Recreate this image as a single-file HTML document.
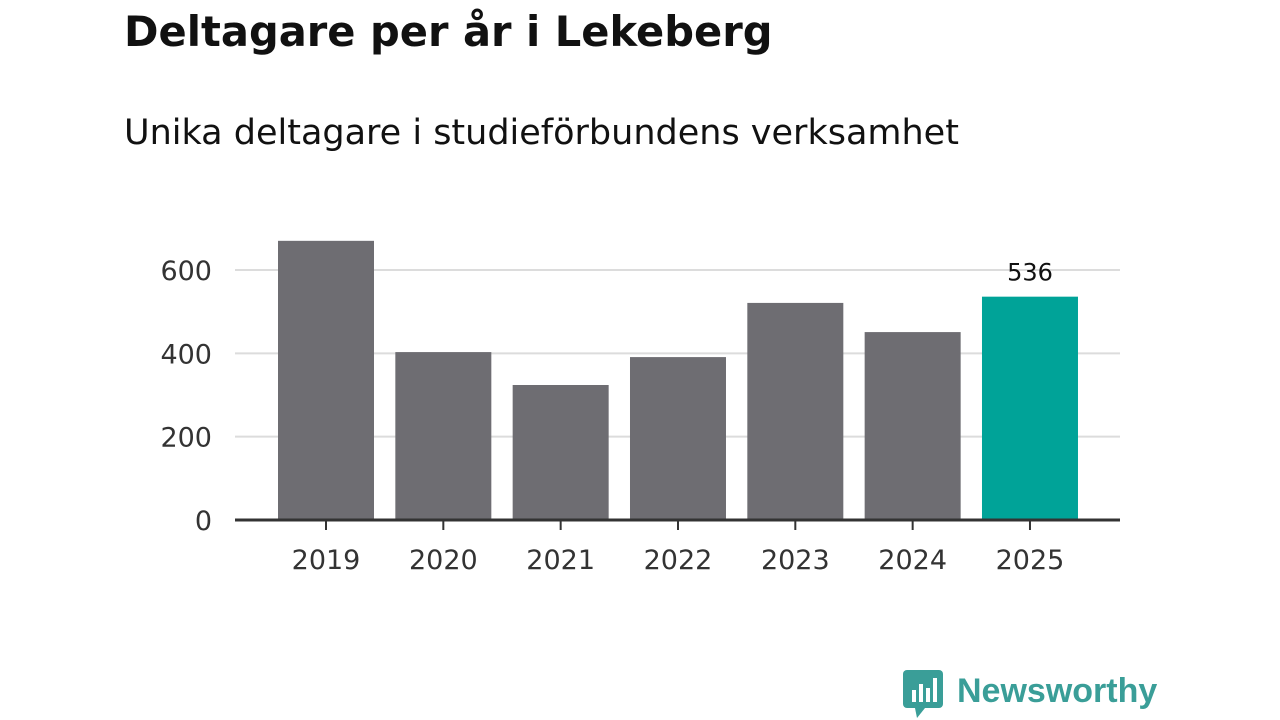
<!DOCTYPE html>
<html><head><meta charset="utf-8"><style>
body{margin:0;background:#fff;width:1280px;height:720px;overflow:hidden;font-family:"DejaVu Sans",sans-serif;}
#title{position:absolute;left:124px;top:7px;font-size:41.6px;font-weight:bold;color:#111;margin:0;white-space:nowrap}
#sub{position:absolute;left:124px;top:113px;font-size:35px;color:#111;white-space:nowrap}
svg{position:absolute;left:0;top:0}
</style></head><body>
<h1 id="title">Deltagare per år i Lekeberg</h1>
<div id="sub">Unika deltagare i studieförbundens verksamhet</div>
<svg id="chart" width="1280" height="720"></svg>
<script>
const categories=["2019","2020","2021","2022","2023","2024","2025"];
const values=[670,403,324,391,521,451,536];
const yTicks=[0,200,400,600];
const highlightLabel="536";
const svg=document.getElementById('chart');
const NS="http://www.w3.org/2000/svg";
const x0=235,x1=1120,y0=520,pxPer=250/600;
const y=v=>y0-v*pxPer;
const step=117.33;
const xc=i=>326+step*i;
const FF='DejaVu Sans, sans-serif';
function mk(t,a){const e=document.createElementNS(NS,t);for(const k in a)e.setAttribute(k,a[k]);svg.appendChild(e);return e;}
yTicks.forEach(t=>{
 if(t>0){const g=mk('line',{x1:x0,x2:x1,y1:y(t),y2:y(t),stroke:'#dcdcdc','stroke-width':2});
 
 }
 const l=mk('text',{x:212,y:y(t)+10,'text-anchor':'end','font-size':27,fill:'#333','font-family':FF});
 l.textContent=t;
 
 
});
categories.forEach((c,i)=>{
 const last=i===categories.length-1;
 const r=mk('rect',{x:xc(i)-48,y:y(values[i]),width:96,height:values[i]*pxPer,fill:last?'#00a398':'#6e6d72'});
 
 
 const tk=mk('line',{x1:xc(i),x2:xc(i),y1:y0,y2:y0+10,stroke:'#333','stroke-width':2});
 
 
 const l=mk('text',{x:xc(i),y:569,'text-anchor':'middle','font-size':27,fill:'#333','font-family':FF});
 l.textContent=c;
 
 
 if(last){const v=mk('text',{x:xc(i),y:y(values[i])-16,'text-anchor':'middle','font-size':24,fill:'#111','font-family':FF});
 v.textContent=highlightLabel;
 
 }
});
const ax=mk('line',{x1:x0,x2:x1,y1:y0,y2:y0,stroke:'#333','stroke-width':3});


</script>
<div style="position:absolute;left:903px;top:670px;display:flex;align-items:center">
<svg width="40" height="48" style="position:static"><rect x="0" y="0" width="40" height="38" rx="4" fill="#3a9e98"/><polygon points="12,38 22,38 14,48" fill="#3a9e98"/><rect x="9" y="20" width="4" height="12" fill="#fff"/><rect x="16" y="14" width="4" height="18" fill="#fff"/><rect x="23" y="18" width="4" height="14" fill="#fff"/><rect x="30" y="8" width="4" height="24" fill="#fff"/></svg>
<span style="font-family:'Liberation Sans',sans-serif;font-size:34px;font-weight:bold;color:#3a9e98;margin-left:14px;margin-top:-6px">Newsworthy</span></div>
</body></html>
